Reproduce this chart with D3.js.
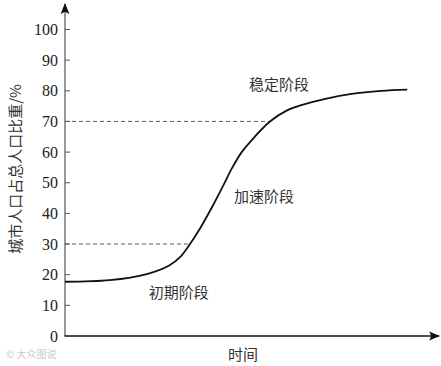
<!DOCTYPE html>
<html>
<head>
<meta charset="utf-8">
<script src="https://cdn.jsdelivr.net/npm/d3@7"></script>
<style>
  body { margin: 0; background: #fff; }
  svg { display: block; }
</style>
</head>
<body>
<div id="chart"></div>
<script>
// Curve points (time is abstract, 0-100)
const timeValues = [0, 12, 22, 28, 31, 33.6, 36.5, 39.5, 42.5, 45, 47.5, 51, 55.1, 59.7, 64, 70, 77, 85, 92];
const urbanShare = [17.7, 18.2, 20.2, 23, 25.8, 30, 35.5, 42, 49, 55, 60, 65, 70, 73.6, 75.5, 77.4, 79, 80, 80.4];
const yTicks = [0, 10, 20, 30, 40, 50, 60, 70, 80, 90, 100];
const guideLevels = [30, 70];
const stageLabels = ['初期阶段', '加速阶段', '稳定阶段'];
const stageAt = [[30.6, 14], [53.5, 45.3], [57.5, 82]]; // [time, share] anchors for labels

const width = 441, height = 366;

const svg = d3.select('#chart').append('svg')
    .attr('width', width)
    .attr('height', height);

const x = d3.scaleLinear().domain([0, 100]).range([65, 437]);
const y = d3.scaleLinear().domain([0, 100]).range([336, 29.5]);

const serif = '"Liberation Serif", "Times New Roman", serif';
const cjk = '"Noto Sans CJK SC", sans-serif';

// Arrow heads
const defs = svg.append('defs');
defs.append('marker')
    .attr('id', 'arrow')
    .attr('viewBox', '0 0 10 10')
    .attr('refX', 9).attr('refY', 5)
    .attr('markerWidth', 11).attr('markerHeight', 11)
    .attr('markerUnits', 'userSpaceOnUse')
    .attr('orient', 'auto')
    .append('path')
    .attr('d', 'M0,1 L10,5 L0,9 L2,5 Z')
    .attr('fill', '#111');

// Dashed guide lines from axis to curve
const data = timeValues.map((t, i) => ({ t, v: urbanShare[i] }));
function timeAt(level) {
    for (let i = 1; i < data.length; i++) {
        if (data[i].v >= level) {
            const a = data[i - 1], b = data[i];
            return a.t + (level - a.v) / (b.v - a.v) * (b.t - a.t);
        }
    }
    return 100;
}
svg.selectAll('.guide')
    .data(guideLevels)
    .join('line')
    .attr('class', 'guide')
    .attr('x1', x(0))
    .attr('x2', d => x(timeAt(d)))
    .attr('y1', d => y(d))
    .attr('y2', d => y(d))
    .attr('stroke', '#333')
    .attr('stroke-width', 0.8)
    .attr('stroke-dasharray', '4,3');

// Y axis (gray line, ticks inside)
svg.append('line')
    .attr('x1', x(0)).attr('x2', x(0))
    .attr('y1', y(0)).attr('y2', 4)
    .attr('stroke', '#777')
    .attr('stroke-width', 1.5)
    .attr('marker-end', 'url(#arrow)');

svg.selectAll('.ytick')
    .data(yTicks.filter(d => d > 0))
    .join('line')
    .attr('class', 'ytick')
    .attr('x1', x(0)).attr('x2', x(0) + 5)
    .attr('y1', d => y(d)).attr('y2', d => y(d))
    .attr('stroke', '#555')
    .attr('stroke-width', 1);

svg.selectAll('.ylabel')
    .data(yTicks)
    .join('text')
    .attr('class', 'ylabel')
    .attr('x', 58)
    .attr('y', d => y(d))
    .attr('dy', '0.35em')
    .attr('text-anchor', 'end')
    .style('font-family', serif)
    .style('font-size', '16px')
    .attr('fill', '#222')
    .text(d => d);

// X axis
svg.append('line')
    .attr('x1', x(0) - 0.5).attr('x2', 439)
    .attr('y1', y(0)).attr('y2', y(0))
    .attr('stroke', '#111')
    .attr('stroke-width', 1.3)
    .attr('marker-end', 'url(#arrow)');

// The S-curve
const line = d3.line()
    .x(d => x(d.t))
    .y(d => y(d.v))
    .curve(d3.curveCatmullRom.alpha(0.5));

svg.append('path')
    .datum(data)
    .attr('d', line)
    .attr('fill', 'none')
    .attr('stroke', '#111')
    .attr('stroke-width', 1.8);

// Stage labels
svg.selectAll('.stage')
    .data(stageLabels)
    .join('text')
    .attr('class', 'stage')
    .attr('x', (d, i) => x(stageAt[i][0]))
    .attr('y', (d, i) => y(stageAt[i][1]))
    .attr('dy', '0.35em')
    .attr('text-anchor', 'middle')
    .style('font-family', cjk)
    .style('font-size', '15px')
    .attr('fill', '#333')
    .text(d => d);

// Axis titles
svg.append('text')
    .attr('x', 243).attr('y', 355)
    .attr('dy', '0.35em')
    .attr('text-anchor', 'middle')
    .style('font-family', cjk)
    .style('font-size', '15px')
    .attr('fill', '#333')
    .text('时间');

svg.append('text')
    .attr('transform', 'translate(16,169) rotate(-90)')
    .attr('dy', '0.35em')
    .attr('text-anchor', 'middle')
    .style('font-family', cjk)
    .style('font-size', '15px')
    .attr('fill', '#333')
    .text('城市人口占总人口比重/%');

// Faint watermark
svg.append('text')
    .attr('x', 6).attr('y', 354)
    .attr('dy', '0.35em')
    .style('font-family', cjk)
    .style('font-size', '10px')
    .attr('fill', '#ccc')
    .text('© 大众图说');
</script>
</body>
</html>
